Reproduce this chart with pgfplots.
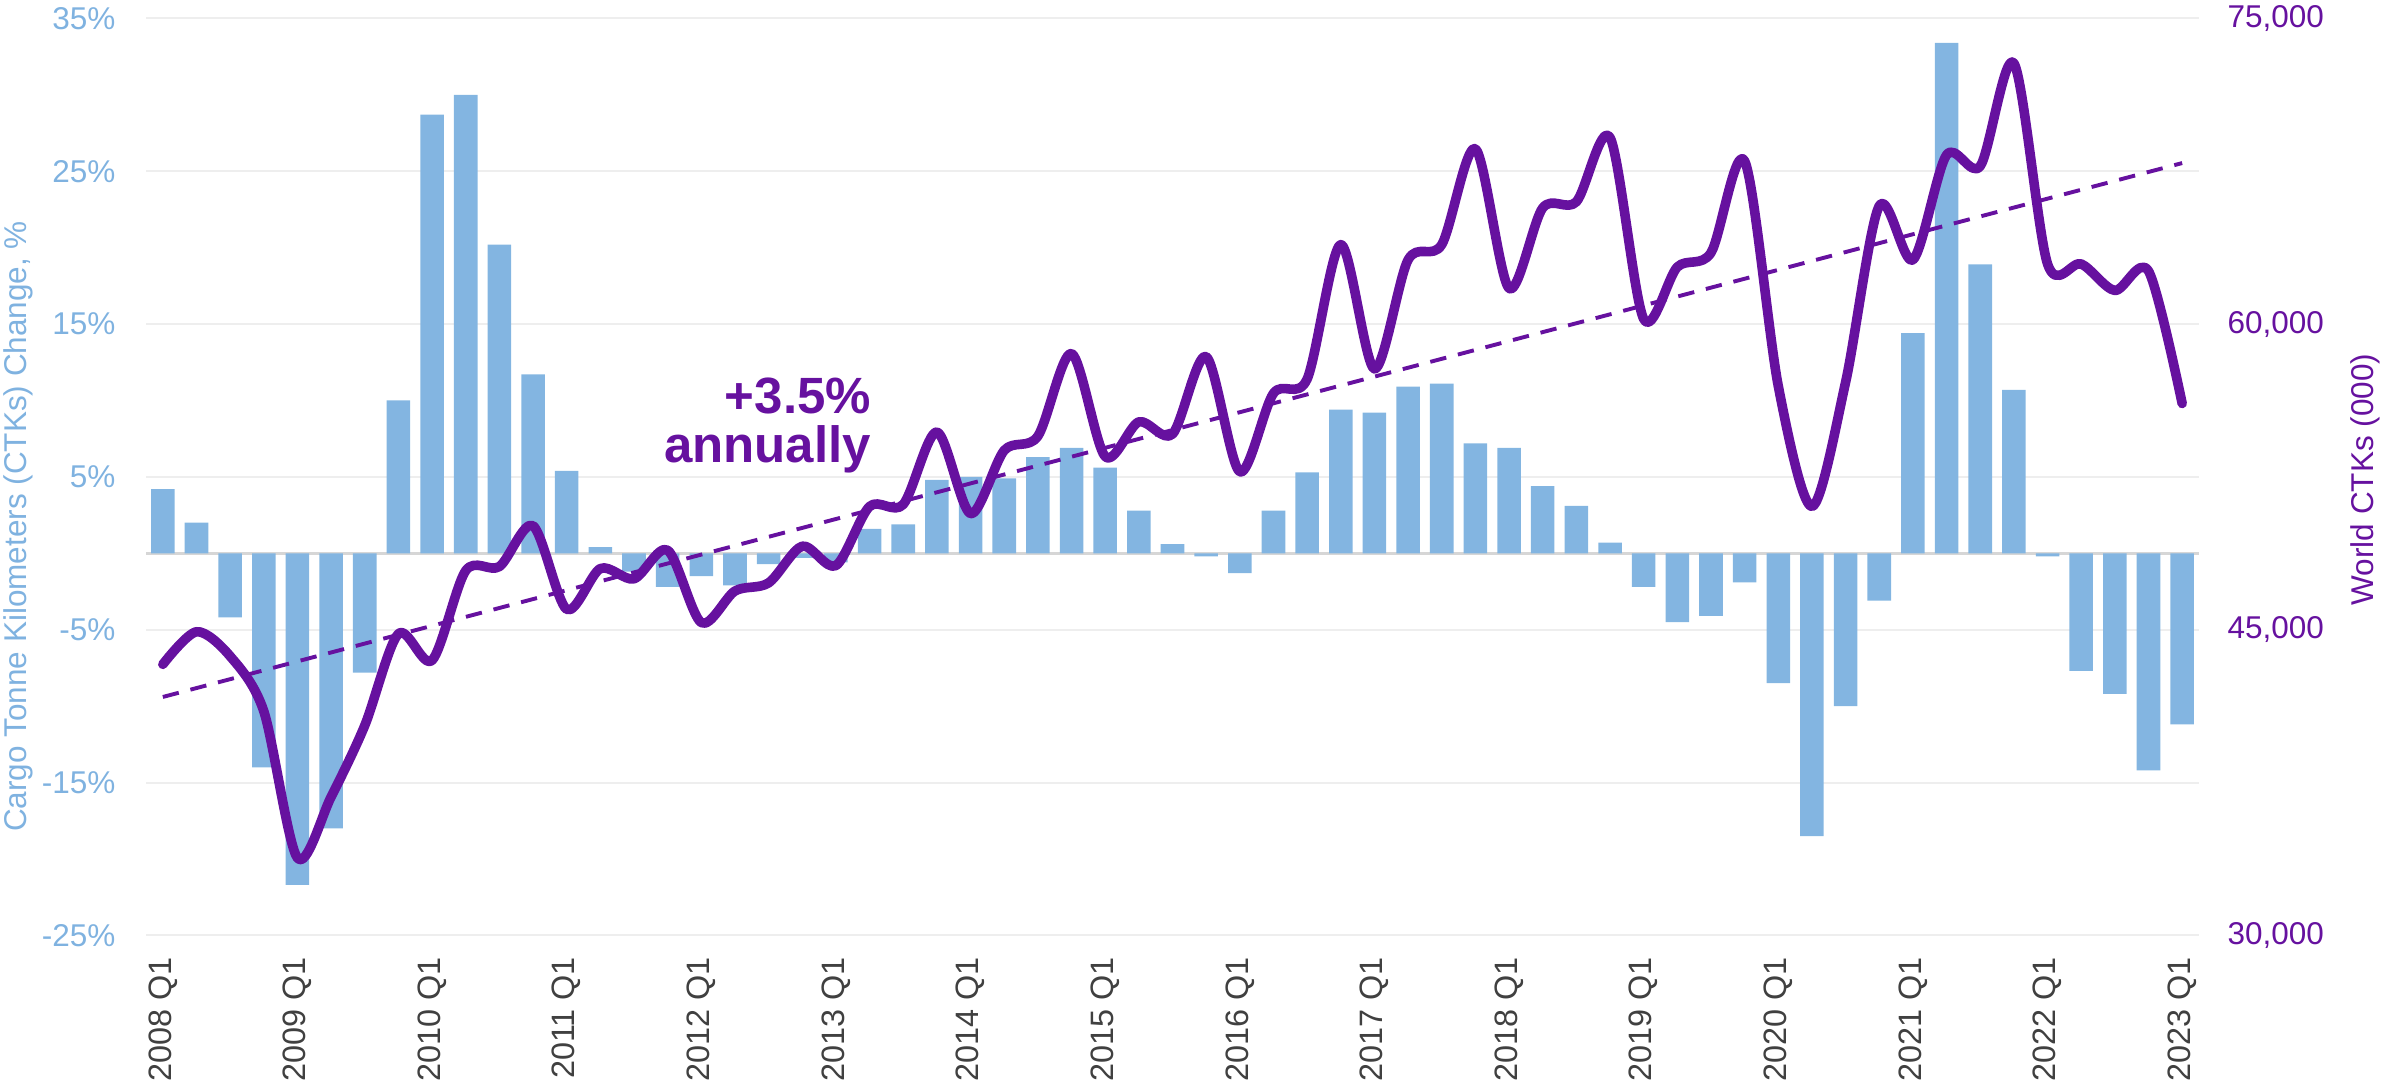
\documentclass[border=0pt]{standalone}
\usepackage{fontspec}
\setmainfont{Liberation Sans}
\usepackage{pgfplots}
\usepackage{pgfplotstable}
\pgfplotsset{compat=1.18}
\definecolor{barblue}{RGB}{131,181,225}
\definecolor{ctkpurple}{RGB}{102,17,159}
\definecolor{ticklblue}{RGB}{127,178,224}
\definecolor{gridgray}{RGB}{238,238,238}
\definecolor{zerogray}{RGB}{214,214,214}
\definecolor{labelgray}{RGB}{64,64,64}

% q = quarter index from 2008 Q1, chg = CTK change in %, ctk = world CTKs (000)
\pgfplotstableread{
q chg ctk
0 4.2 43300
1 2.0 44900
2 -4.2 43700
3 -14.0 41000
4 -21.7 33800
5 -18.0 36800
6 -7.8 40300
7 10.0 44800
8 28.7 43500
9 30.0 47900
10 20.2 48100
11 11.7 50100
12 5.4 46000
13 0.4 48000
14 -1.2 47500
15 -2.2 48900
16 -1.5 45350
17 -2.1 46900
18 -0.7 47300
19 -0.3 49100
20 -0.6 48150
21 1.6 51050
22 1.9 51150
23 4.8 54700
24 5.0 50700
25 4.9 53800
26 6.3 54500
27 6.9 58550
28 5.6 53500
29 2.8 55200
30 0.6 54600
31 -0.2 58400
32 -1.3 52750
33 2.8 56600
34 5.3 57300
35 9.4 63900
36 9.2 57800
37 10.9 63150
38 11.1 63900
39 7.2 68600
40 6.9 61750
41 4.4 65700
42 3.1 66000
43 0.7 69150
44 -2.2 60250
45 -4.5 62800
46 -4.1 63500
47 -1.9 68000
48 -8.5 56950
49 -18.5 51050
50 -10.0 57150
51 -3.1 65800
52 14.4 63150
53 33.4 68300
54 18.9 67750
55 10.7 72800
56 -0.2 62950
57 -7.7 62950
58 -9.2 61650
59 -14.2 62600
60 -11.2 56100
}\ctkdata

\begin{document}
\begin{tikzpicture}
\pgfplotsset{
  every tick label/.append style={font=\fontsize{10.5}{12}\selectfont},
  common/.style={
    scale only axis, width=684.33pt, height=305.67pt,
    xmin=-0.5, xmax=60.5,
    axis line style={draw=none}, major tick length=0pt,
    scaled y ticks=false,
  },
}
\begin{axis}[
  common,
  ymin=-25, ymax=35,
  ytick={-25,-15,-5,5,15,25,35},
  yticklabels={-25\%,-15\%,-5\%,5\%,15\%,25\%,35\%},
  yticklabel style={text=ticklblue, anchor=east, inner sep=0pt},
  yticklabel shift=10pt,
  ymajorgrids, grid style={gridgray, line width=0.7pt},
  extra y ticks={0}, extra y tick labels={},
  extra y tick style={major grid style={zerogray, line width=1pt}},
  xtick={0,4,...,60},
  xticklabels={2008 Q1,2009 Q1,2010 Q1,2011 Q1,2012 Q1,2013 Q1,2014 Q1,2015 Q1,2016 Q1,2017 Q1,2018 Q1,2019 Q1,2020 Q1,2021 Q1,2022 Q1,2023 Q1},
  xticklabel style={rotate=90, anchor=east, inner sep=0pt, text=labelgray, font=\fontsize{10.8}{12}\selectfont},
  xticklabel shift=7pt,
  ylabel={Cargo Tonne Kilometers (CTKs) Change, \%},
  every axis y label/.style={at={(axis description cs:-0.062,0.446)}, rotate=90, anchor=center,
    text=ticklblue, font=\fontsize{10.5}{12}\selectfont},
]
\addplot[ybar, bar width=0.7, fill=barblue, draw=none] table[x=q,y=chg]{\ctkdata};
\end{axis}

\begin{axis}[
  common,
  ymin=30000, ymax=75000,
  axis x line=none, axis y line*=right,
  ytick={30000,45000,60000,75000},
  yticklabels={{30,000},{45,000},{60,000},{75,000}},
  yticklabel style={text=ctkpurple, anchor=west, inner sep=0pt},
  yticklabel shift=9.3pt,
  ylabel={World CTKs (000)},
  every axis y label/.style={at={(axis description cs:1.081,0.497)}, rotate=90, anchor=center,
    text=ctkpurple, font=\fontsize{10.5}{12}\selectfont},
  clip=false,
]
\addplot[ctkpurple, line width=1.3pt, dash pattern=on 5.5pt off 4pt] coordinates {(0,41700) (60,67900)};
\addplot[ctkpurple, line width=3.2pt, smooth, line join=round, line cap=round] table[x=q,y=ctk]{\ctkdata};
\node[anchor=north east, align=right, inner sep=0pt, text=ctkpurple,
  font=\bfseries\fontsize{17}{16.3}\selectfont] at (axis cs:21.06,57400) {+3.5\%\\annually};
\end{axis}
\pgfresetboundingbox
\path[use as bounding box] (-48.67pt,-48.67pt) rectangle (745pt,311.8pt);
\end{tikzpicture}
\end{document}
